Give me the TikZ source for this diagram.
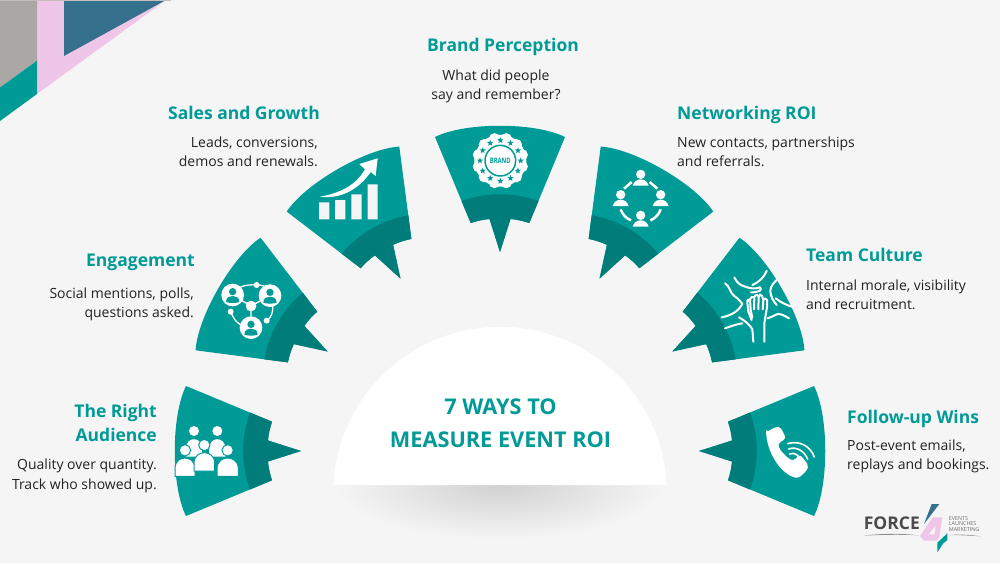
\documentclass[tikz,border=0pt]{standalone}
\usepackage{fontspec}
\setmainfont{Open Sans}
\usetikzlibrary{shapes.geometric}
\definecolor{bgc}{HTML}{F5F5F5}
\definecolor{tealm}{HTML}{009A97}
\definecolor{teald}{HTML}{007C7B}
\definecolor{pinkc}{HTML}{EFC6E8}
\definecolor{bluec}{HTML}{35708D}
\definecolor{greyc}{HTML}{ABA7A5}
\definecolor{logog}{HTML}{4A4A4A}
\definecolor{txt}{HTML}{222222}
\tikzset{
  ttl/.style={font=\fontsize{17.5}{23}\selectfont\bfseries,text=tealm,inner sep=0pt},
  bodyr/.style={font=\fontsize{14}{19.5}\selectfont,text=txt,align=right,inner sep=0pt},
  bodyl/.style={font=\fontsize{14}{19.5}\selectfont,text=txt,align=left,inner sep=0pt},
  bodyc/.style={font=\fontsize{14}{19.5}\selectfont,text=txt,align=center,inner sep=0pt},
  zoomed/.style={x=0.33333pt,y=-0.33333pt},
  wl/.style={draw=white,line width=#1,line cap=round,line join=round},
  starmark/.style={star,star points=5,star point ratio=2.3,fill=tealm,minimum size=6.5pt,inner sep=0pt},
}
\newcommand{\petal}[1]{%
  \begin{scope}[shift={(500,451)},rotate=#1]
    \fill[tealm] (-314,-65) -- (-228,-29.3) .. controls (-230,-23) and (-231.5,-17) .. (-232,-10.5)
      -- (-199,0) -- (-232,10.5) .. controls (-231.5,17) and (-230,23) .. (-228,29.3)
      -- (-314,65) .. controls (-329,35) and (-329,-35) .. (-314,-65) -- cycle;
    \fill[teald] (-250,-38.5) -- (-228,-29.3) .. controls (-230,-23) and (-231.5,-17) .. (-232,-10.5)
      -- (-199,0) -- (-232,10.5) .. controls (-231.5,17) and (-230,23) .. (-228,29.3)
      -- (-250,38.5) .. controls (-259,14) and (-259,-14) .. (-250,-38.5) -- cycle;
  \end{scope}}
\newcommand{\crowdp}[3]{%
  \fill[white,draw=tealm,line width=1pt] (#1,#2) circle [radius=17];
  \fill[white,draw=tealm,line width=1pt] (#1-#3,#2+78) -- (#1-#3,#2+55) .. controls (#1-#3,#2+30) and (#1-12,#2+23) .. (#1,#2+23)
     .. controls (#1+12,#2+23) and (#1+#3,#2+30) .. (#1+#3,#2+55) -- (#1+#3,#2+78) -- cycle;}
\newcommand{\netp}[2]{%
  \fill[white] (#1,#2) circle [radius=34];
  \fill[tealm] (#1,#2-10) circle [radius=11];
  \fill[tealm] (#1-20,#2+21) .. controls (#1-20,#2+6) and (#1-9,#2+3) .. (#1,#2+3)
     .. controls (#1+9,#2+3) and (#1+20,#2+6) .. (#1+20,#2+21) .. controls (#1+9,#2+25) and (#1-9,#2+25) .. (#1-20,#2+21) -- cycle;}
\newcommand{\roip}[2]{%
  \fill[white] (#1,#2) circle [radius=14];
  \fill[white] (#1-24,#2+34) .. controls (#1-20,#2+22) and (#1-12,#2+15) .. (#1,#2+15)
     .. controls (#1+12,#2+15) and (#1+20,#2+22) .. (#1+24,#2+34) -- cycle;}
\begin{document}
\begin{tikzpicture}[x=1pt,y=-1pt]
\useasboundingbox (0,0) rectangle (1000,563);
\fill[bgc] (0,0) rectangle (1000,563);
% corner
\fill[pinkc] (37,0) -- (166,0) -- (37,94) -- cycle;
\fill[greyc] (0,0) -- (37,0) -- (37,60.7) -- (0,87.5) -- cycle;
\fill[tealm] (0,87.5) -- (37,60.7) -- (37,94) -- (0,121) -- cycle;
\fill[bluec] (64,0) -- (166,0) -- (64,56) -- cycle;
\fill[greyc!70!bgc] (0,0) rectangle (171,1);
% shadow
\begin{scope}
  \clip (300,485) rectangle (700,563);
  \shade[inner color=black!18,outer color=bgc] (500,485) ellipse [x radius=165,y radius=54];
\end{scope}
% centre
\fill[white] (666.8,485) arc[start angle=-3,end angle=-177,radius=167] -- cycle;
% petals
\petal{0}\petal{-30}\petal{-60}\petal{-90}\petal{-120}\petal{-150}\petal{-180}
% icon 1
\begin{scope}[shift={(160,370)},zoomed]
  \crowdp{102}{183}{26}\crowdp{172}{183}{26}
  \crowdp{75}{241}{30}\crowdp{203}{241}{32}
  \crowdp{133}{225}{31}
\end{scope}
% icon 2
\begin{scope}[shift={(190,230)},zoomed]
  \draw[wl=1.3pt] (150,172) .. controls (165,165) and (185,163) .. (200,165) .. controls (215,165) and (225,168) .. (235,175);
  \draw[wl=1.3pt] (122,245) .. controls (132,270) and (145,285) .. (165,290);
  \draw[wl=1.3pt] (230,272) .. controls (245,262) and (250,245) .. (248,225);
  \draw[wl=1.3pt] (183,228) -- (128,195) (183,228) -- (240,197) (183,228) -- (183,293);
  \netp{128}{195}\netp{240}{197}\netp{183}{293}
  \fill[white] (183,228) circle [radius=16];
  \fill[white] (200,165) circle [radius=9];
  \fill[white] (122,245) circle [radius=9];
  \fill[white] (230,272) circle [radius=9];
\end{scope}
% icon 3
\begin{scope}[shift={(280,140)},zoomed]
  \fill[bgc] (117,187) rectangle (148,238) (165,180) rectangle (196,238) (214,163) rectangle (245,238) (263,133) rectangle (293,238);
  \fill[white] (120,170) .. controls (175,160) and (225,140) .. (255,88) -- (238,72) -- (293,55) -- (287,108) -- (272,96)
    .. controls (235,150) and (180,178) .. (120,170) -- cycle;
\end{scope}
% icon 4
\begin{scope}[shift={(430,120)},zoomed]
  \fill[white] (211,122) circle [radius=78];
  \foreach \a in {15,45,...,345}{\fill[white] (211,122) ++(\a:68) circle [radius=17];}
  \draw[tealm,line width=1.5pt] (211,122) circle [radius=46];
  \foreach \a [count=\i] in {0,30,...,330}{\node[starmark] (s\i) at ([shift={(\a:61)}]211,122) {};}
  \node[font=\fontsize{7.5}{8}\selectfont\bfseries,text=tealm,inner sep=0pt,xscale=0.78] (brandt) at (211,122) {BRAND};
\end{scope}
% icon 5
\begin{scope}[shift={(585,140)},zoomed]
  \roip{167}{103}\roip{107}{164}\roip{227}{164}\roip{167}{226}
  \draw[wl=2.5pt,line cap=butt] (117,146) -- (140,126) (217,146) -- (194,126);
  \draw[wl=2.5pt,line cap=butt] (107,208) .. controls (112,224) and (125,236) .. (138,241);
  \draw[wl=2.5pt,line cap=butt] (227,208) .. controls (222,224) and (209,236) .. (196,241);
\end{scope}
% icon 6
\begin{scope}[shift={(665,230)},zoomed]
  \draw[wl=2pt] (180,160) .. controls (195,168) and (195,190) .. (208,198) .. controls (218,205) and (225,212) .. (232,222) .. controls (222,240) and (205,255) .. (170,262);
  \draw[wl=2pt] (208,142) .. controls (215,158) and (225,165) .. (240,170) .. controls (255,175) and (270,178) .. (285,172) .. controls (292,180) and (285,187) .. (258,187);
  \draw[wl=2pt] (305,122) .. controls (298,140) and (285,155) .. (262,165);
  \draw[wl=2pt] (335,150) .. controls (318,165) and (312,180) .. (318,195) .. controls (322,210) and (330,218) .. (335,225);
  \draw[wl=2pt] (332,205) .. controls (348,218) and (365,225) .. (380,230);
  \draw[wl=2pt] (372,265) .. controls (355,255) and (345,250) .. (335,253) .. controls (325,258) and (318,262) .. (308,265);
  \draw[wl=2pt] (180,295) .. controls (195,290) and (215,282) .. (232,280);
  \draw[wl=2pt] (222,262) .. controls (240,272) and (255,285) .. (262,298) -- (265,335);
  \draw[wl=2pt] (298,335) -- (298,280) .. controls (300,265) and (303,250) .. (306,232) -- (306,210)
     .. controls (303,203) and (297,203) .. (295,210) -- (293,238) (295,210) -- (291,198) .. controls (288,192) and (282,192) .. (281,200) -- (280,238)
     (281,200) .. controls (277,192) and (270,193) .. (268,202) -- (267,238) (268,205) .. controls (263,198) and (256,200) .. (255,208) -- (257,240) -- (262,262) (255,215) .. controls (250,205) and (246,208) .. (247,218) -- (250,245) -- (260,270);
\end{scope}
% icon 7
\begin{scope}[shift={(690,375)},zoomed]
  \fill[white,rounded corners=3pt] (228,172) -- (258,155) -- (272,157) -- (288,190) -- (263,207) .. controls (270,225) and (285,245) .. (310,258) -- (330,238) -- (355,270) -- (352,285) -- (325,310) .. controls (275,298) and (235,240) .. (228,172) -- cycle;
  \draw[wl=1.6pt] (293,206) .. controls (330,195) and (362,215) .. (373,246);
  \draw[wl=1.6pt] (296,222) .. controls (320,213) and (345,230) .. (353,253);
  \draw[wl=1.6pt] (299,237) .. controls (315,230) and (328,243) .. (334,258);
\end{scope}
% titles and text
\node[ttl,anchor=base east] (t1) at (157,417.5) {The Right};
\node[ttl,anchor=base east] (t1b) at (157,441) {Audience};
\node[bodyr,anchor=north east] (b1) at (157,459) {Quality over quantity.\\Track who showed up.};
\node[ttl,anchor=base east] (t2) at (195,266) {Engagement};
\node[bodyr,anchor=north east] (b2) at (194,287.5) {Social mentions, polls,\\questions asked.};
\node[ttl,anchor=base east] (t3) at (320,119.5) {Sales and Growth};
\node[bodyr,anchor=north east] (b3) at (318,136.5) {Leads, conversions,\\demos and renewals.};
\node[ttl,anchor=base] (t4) at (503,51.5) {Brand Perception};
\node[bodyc,anchor=north] (b4) at (496,69.5) {What did people\\say and remember?};
\node[ttl,anchor=base west] (t5) at (677,119.5) {Networking ROI};
\node[bodyl,anchor=north west] (b5) at (677,136.5) {New contacts, partnerships\\and referrals.};
\node[ttl,anchor=base west] (t6) at (806,261.5) {Team Culture};
\node[bodyl,anchor=north west] (b6) at (806,279.5) {Internal morale, visibility\\and recruitment.};
\node[ttl,anchor=base west] (t7) at (847,423) {Follow-up Wins};
\node[bodyl,anchor=north west] (b7) at (847,439.5) {Post-event emails,\\replays and bookings.};
\node[font=\fontsize{21.7}{33}\selectfont\bfseries,text=tealm,align=center,inner sep=0pt] (main) at (500.5,423) {7 WAYS TO\\MEASURE EVENT ROI};
% logo
\begin{scope}[shift={(850,490)},zoomed]
  \fill[bluec] (268,42) -- (245,42) -- (222,102) -- cycle;
  \fill[pinkc] (248,82) -- (277,82) -- (268,142) -- (260,152) -- (222,152) -- (210,138) -- cycle;
  \fill[bgc] (236,133) -- (256,108) -- (254,133) -- cycle;
  \fill[tealm] (262,187) -- (262,158) -- (292,130) -- (292,150) -- (280,160) -- cycle;
  \fill[logog!60!bgc] (42,137) .. controls (90,130) and (160,130) .. (205,136) .. controls (160,133) and (90,134) .. (42,137) -- cycle;
  \fill[logog!60!bgc] (300,135) .. controls (330,132) and (365,135) .. (392,139) .. controls (365,137) and (330,135) .. (300,135) -- cycle;
  \node[font=\fontsize{17.5}{18}\selectfont\bfseries,text=logog,inner sep=0pt,anchor=west] (force) at (41,100) {FORCE};
  \node[font=\fontsize{5.4}{5.5}\selectfont,text=logog!80!bgc,inner sep=0pt,anchor=north west,align=left] (sub) at (296,78) {EVENTS\\LAUNCHES\\MARKETING};
\end{scope}
\end{tikzpicture}
\end{document}
